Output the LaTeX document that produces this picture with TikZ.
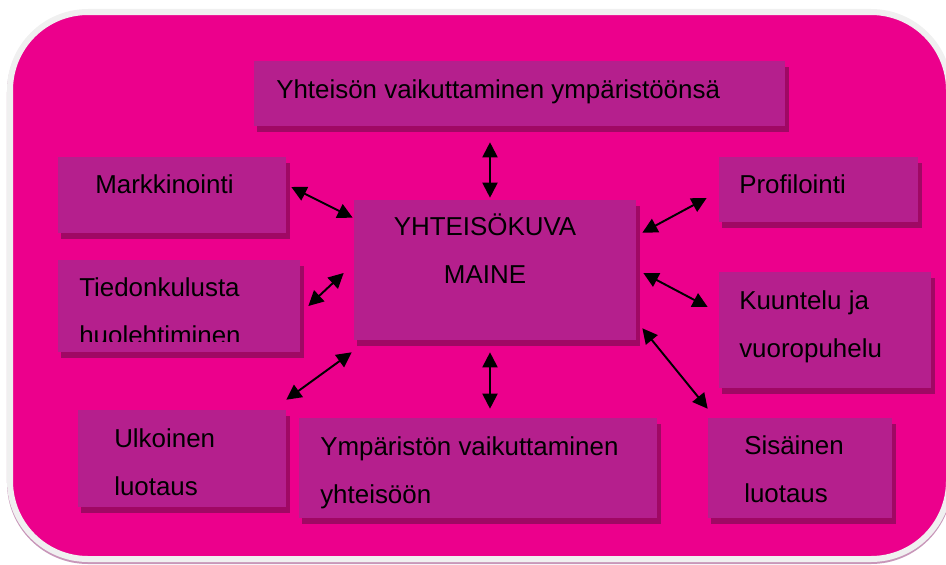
\documentclass[tikz,border=0pt]{standalone}
\usepackage{fontspec}
\setmainfont{Liberation Sans}
\usetikzlibrary{arrows.meta,shadows}
\definecolor{pinkbg}{RGB}{236,0,140}
\definecolor{boxfill}{RGB}{181,31,141}
\definecolor{boxshade}{RGB}{160,8,100}
\definecolor{framegray}{RGB}{240,240,240}
\definecolor{frameshade}{RGB}{200,150,185}

\begin{document}
\begin{tikzpicture}[x=0.01in,y=-0.01in,
  panel/.style={fill=boxfill, inner sep=0pt, drop shadow={shadow xshift=0.035in, shadow yshift=-0.06in, fill=boxshade, opacity=1}},
  lbl/.style={inner sep=0pt, anchor=base west, align=left, font=\fontsize{18.72}{34.2}\selectfont},
  link/.style={{Triangle[length=0.15in,width=0.15in]}-{Triangle[length=0.15in,width=0.15in]}, line width=1.4pt}]
\useasboundingbox (0,0) rectangle (946,564);
\draw[frameshade, line width=0.06in, rounded corners=0.78in] (10,14) rectangle (949,561);
\draw[framegray, fill=pinkbg, line width=0.06in, rounded corners=0.78in] (10,12) rectangle (949,559);
\node[panel, minimum width=5.31in, minimum height=0.65in] (topb) at (519.5,93.5) {};
\node[panel, minimum width=2.28in, minimum height=0.76in] (markk) at (172,195) {};
\node[panel, minimum width=2.42in, minimum height=0.92in] (tied) at (179,306) {};
\node[panel, minimum width=2.82in, minimum height=1.40in] (core) at (495,270) {};
\node[panel, minimum width=1.99in, minimum height=0.65in] (profi) at (818.5,189.5) {};
\node[panel, minimum width=2.12in, minimum height=1.16in] (kuunt) at (825,330) {};
\node[panel, minimum width=2.08in, minimum height=0.97in] (ulko) at (182,458.5) {};
\node[panel, minimum width=3.58in, minimum height=1.00in] (ymp) at (478,468) {};
\node[panel, minimum width=1.84in, minimum height=1.00in] (sisa) at (800,468) {};
\node[lbl] (topb-t) at (276,98) {Yhteisön vaikuttaminen ympäristöönsä};
\node[lbl] (markk-t) at (95,193) {Markkinointi};
\begin{scope}
\clip (tied.north west) rectangle ([shift={(0,-11)}]tied.south east);
\node[lbl] (tied-t) at (79,344) {Tiedonkulusta\\huolehtiminen};
\end{scope}
\node[lbl, anchor=base, align=center] (core-t) at (485,283) {YHTEISÖKUVA\\MAINE};
\node[lbl] (profi-t) at (739,193) {Profilointi};
\node[lbl] (kuunt-t) at (739,357) {Kuuntelu ja\\vuoropuhelu};
\node[lbl] (ulko-t) at (114,495) {Ulkoinen\\luotaus};
\node[lbl] (ymp-t) at (320,503) {Ympäristön vaikuttaminen\\yhteisöön};
\node[lbl] (sisa-t) at (744,502) {Sisäinen\\luotaus};
\draw[link] ([shift={(-29.5,16)}]topb.south) -- ([shift={(-5,-2)}]core.north);
\draw[link] ([shift={(5,-8)}]markk.east) -- ([shift={(-1,18)}]core.north west);
\draw[link] ([shift={(8,0)}]tied.east) -- ([shift={(-10,3)}]core.west);
\draw[link] ([shift={(0,-10)}]ulko.north east) -- ([shift={(-2,12)}]core.south west);
\draw[link] ([shift={(-5,12)}]core.south) -- ([shift={(12,-9)}]ymp.north);
\draw[link] ([shift={(6,33)}]core.north east) -- ([shift={(-12,8.5)}]profi.west);
\draw[link] ([shift={(7,3)}]core.east) -- ([shift={(-11,-23)}]kuunt.west);
\draw[link] ([shift={(6,-12)}]core.south east) -- ([shift={(0,-9)}]sisa.north west);
\end{tikzpicture}
\end{document}
